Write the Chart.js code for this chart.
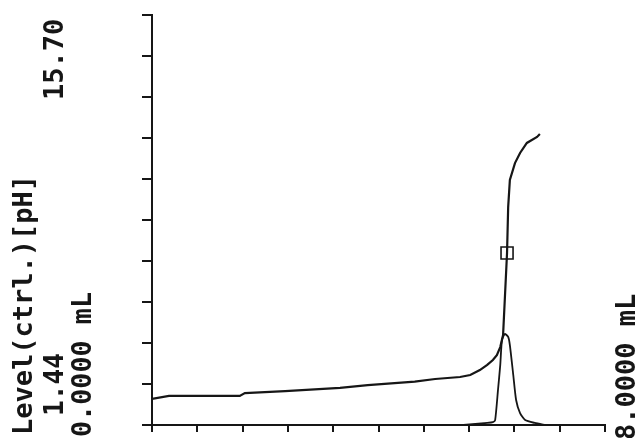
<!DOCTYPE html>
<html>
<head>
<meta charset="utf-8">
<script src="https://cdn.jsdelivr.net/npm/chart.js@4/dist/chart.umd.min.js"></script>
<style>
  html, body { margin: 0; padding: 0; background: #fff; }
  #chart { display: block; }
</style>
</head>
<body>
<canvas id="chart" width="635" height="438"></canvas>
<script>
// Axis ranges (from the labels on the plot)
const volumeRange = [0, 8];          // mL
const phRange = [1.44, 15.70];       // pH
const tickCount = 10;

// Titration curve: volume added (mL) vs pH
const volume = [0, 0.3, 1.55, 1.64, 2.35, 3.32, 3.81, 4.64, 5.0, 5.44, 5.62, 5.79, 5.92, 6.02, 6.09, 6.15,
    6.20, 6.23, 6.27, 6.29, 6.32, 6.41, 6.50, 6.62, 6.80, 6.85];
const pH = [2.35, 2.45, 2.45, 2.55, 2.62, 2.73, 2.83, 2.95, 3.04, 3.11, 3.18, 3.35, 3.53, 3.70, 3.87, 4.15,
    4.57, 5.79, 7.42, 9.02, 9.96, 10.55, 10.90, 11.25, 11.46, 11.56];

// First derivative (relative height, % of plot height)
const derivVolume = [5.50, 5.92, 6.02, 6.06, 6.11, 6.15, 6.18, 6.23, 6.29, 6.32, 6.38, 6.43, 6.50, 6.59, 6.76, 6.95];
const derivValue = [0, 0.5, 0.7, 1.2, 8.5, 14.6, 20.7, 22.2, 21.5, 19.5, 12.2, 6.1, 2.9, 1.2, 0.5, 0];

// Equivalence point
const eqVolume = [6.27];
const eqPH = [7.42];

// Rotated labels
const leftLabels = [
    { text: 'Level(ctrl.)[pH]', x: 32, y: 435, len: 272 },
    { text: '1.44', x: 63, y: 416, len: 63 },
    { text: '15.70', x: 63, y: 100, len: 86 },
    { text: '0.0000 mL', x: 91, y: 437, len: 145 },
    { text: '8.0000 mL', x: 635, y: 440, len: 150 }
];

const ink = '#161616';

const toPoints = (xs, ys) => xs.map((x, i) => ({ x: x, y: ys[i] }));

function evenTicks(scale, lo, hi) {
    const ticks = [];
    for (let i = 0; i <= tickCount; i++) {
        ticks.push({ value: lo + (hi - lo) * i / tickCount });
    }
    scale.ticks = ticks;
}

const labelPlugin = {
    id: 'rotatedLabels',
    afterDraw(chart) {
        const ctx = chart.ctx;
        ctx.save();
        ctx.fillStyle = ink;
        ctx.font = 'bold 27px "DejaVu Sans Mono", monospace';
        ctx.textBaseline = 'alphabetic';
        ctx.textAlign = 'left';
        leftLabels.forEach(l => {
            ctx.save();
            ctx.translate(l.x, l.y);
            ctx.rotate(-Math.PI / 2);
            ctx.fillText(l.text, 0, 0, l.len);
            ctx.restore();
        });
        ctx.restore();
    }
};

new Chart(document.getElementById('chart'), {
    type: 'scatter',
    data: {
        datasets: [
            {
                label: 'pH',
                data: toPoints(volume, pH),
                showLine: true,
                borderColor: ink,
                borderWidth: 2.2,
                pointRadius: 0,
                yAxisID: 'y'
            },
            {
                label: 'dpH/dV',
                data: toPoints(derivVolume, derivValue),
                showLine: true,
                borderColor: ink,
                borderWidth: 1.8,
                pointRadius: 0,
                tension: 0.2,
                yAxisID: 'yd'
            },
            {
                label: 'EP',
                data: toPoints(eqVolume, eqPH),
                pointStyle: 'rect',
                pointRadius: 8.5,
                borderColor: ink,
                borderWidth: 1.6,
                backgroundColor: 'rgba(255,255,255,0)',
                yAxisID: 'y'
            }
        ]
    },
    options: {
        responsive: false,
        animation: false,
        layout: { padding: { left: 142, right: 30, top: 15, bottom: 6 } },
        plugins: {
            legend: { display: false },
            tooltip: { enabled: false }
        },
        scales: {
            x: {
                type: 'linear',
                min: volumeRange[0],
                max: volumeRange[1],
                afterBuildTicks: s => evenTicks(s, volumeRange[0], volumeRange[1]),
                ticks: { display: false },
                grid: { drawOnChartArea: false, drawTicks: true, tickLength: 7, color: ink, lineWidth: 2 },
                border: { display: true, color: ink, width: 2 }
            },
            y: {
                type: 'linear',
                min: phRange[0],
                max: phRange[1],
                afterBuildTicks: s => evenTicks(s, phRange[0], phRange[1]),
                ticks: { display: false },
                grid: { drawOnChartArea: false, drawTicks: true, tickLength: 10, color: ink, lineWidth: 2 },
                border: { display: true, color: ink, width: 2 }
            },
            yd: {
                type: 'linear',
                display: false,
                min: 0,
                max: 100
            }
        }
    },
    plugins: [labelPlugin]
});
</script>
</body>
</html>
